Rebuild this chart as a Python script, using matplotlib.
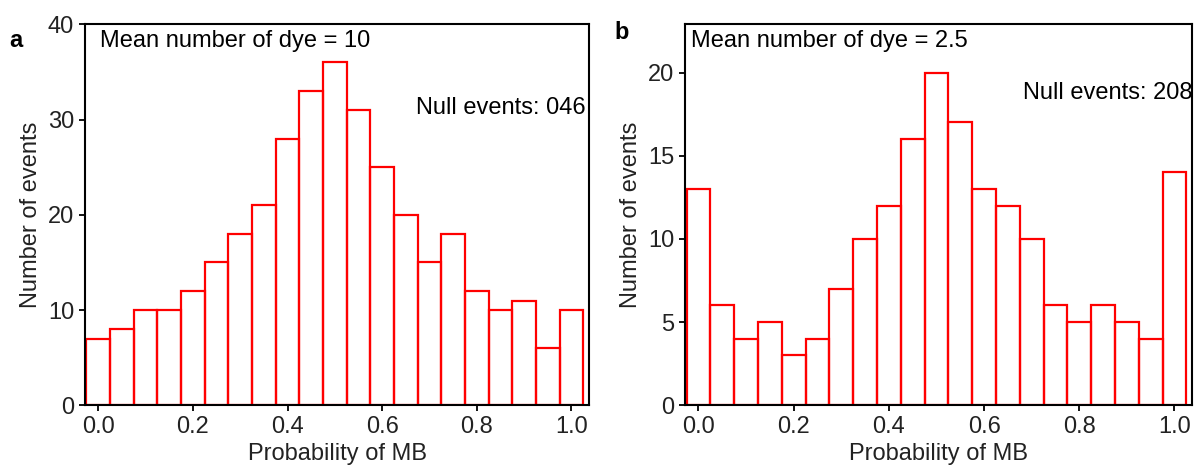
import matplotlib
matplotlib.use("Agg")
import matplotlib.pyplot as plt

plt.rcParams["font.family"] = ["Liberation Sans", "DejaVu Sans"]

# ── Data ──────────────────────────────────────────────────────────────────────
bin_centers = [0.00, 0.05, 0.10, 0.15, 0.20, 0.25, 0.30, 0.35, 0.40, 0.45, 0.50,
               0.55, 0.60, 0.65, 0.70, 0.75, 0.80, 0.85, 0.90, 0.95, 1.00]
bin_width = 0.05
counts_a = [7, 8, 10, 10, 12, 15, 18, 21, 28, 33, 36, 31, 25, 20, 15, 18, 12, 10, 11, 6, 10]
counts_b = [13, 6, 4, 5, 3, 4, 7, 10, 12, 16, 20, 17, 13, 12, 10, 6, 5, 6, 5, 4, 14]
xticks = [0.0, 0.2, 0.4, 0.6, 0.8, 1.0]
yticks_a = [0, 10, 20, 30, 40]
yticks_b = [0, 5, 10, 15, 20]

FS = 17
RED = "#ff0000"

fig = plt.figure(figsize=(11.94, 4.66), dpi=100)
ax_a = fig.add_axes([0.0714, 0.1303, 0.4219, 0.8176])
ax_b = fig.add_axes([0.5740, 0.1303, 0.4244, 0.8176])


def panel(ax, counts, ylim, yticks, mean_txt, mean_x, null_txt, null_xy):
    ax.bar(bin_centers, counts, width=bin_width, fill=False,
           edgecolor=RED, linewidth=1.6, align="center", zorder=2)
    ax.set_xlim(-0.0275, 1.037)
    ax.set_ylim(0, ylim)
    ax.set_xticks(xticks)
    ax.set_xticklabels([f"{t:.1f}" for t in xticks])
    ax.set_yticks(yticks)
    for s in ax.spines.values():
        s.set_linewidth(1.5)
        s.set_color("black")
    ax.tick_params(direction="out", length=4, width=1.3, labelsize=FS,
                   colors="black", labelcolor="#222222", pad=4)
    ax.set_xlabel("Probability of MB", fontsize=FS, color="#222222", labelpad=3)
    ax.set_ylabel("Number of events", fontsize=FS, color="#222222", labelpad=4)
    ax.text(mean_x, 0.940, mean_txt, transform=ax.transAxes,
            fontsize=FS, va="baseline", ha="left", color="black")
    ax.text(null_xy[0], null_xy[1], null_txt, transform=ax.transAxes,
            fontsize=FS, va="baseline", ha="right", color="black")


panel(ax_a, counts_a, 40, yticks_a, "Mean number of dye = 10", 0.029,
      "Null events: 046", (0.993, 0.765))
panel(ax_b, counts_b, 22.9, yticks_b, "Mean number of dye = 2.5", 0.011,
      "Null events: 208", (1.0, 0.804))

fig.text(16 / 1194, 1 - 47 / 466, "a", fontsize=17, fontweight="bold",
         ha="center", va="baseline")
fig.text(622 / 1194, 1 - 39 / 466, "b", fontsize=17, fontweight="bold",
         ha="center", va="baseline")

fig.savefig("out.png", dpi=100, facecolor="white")
